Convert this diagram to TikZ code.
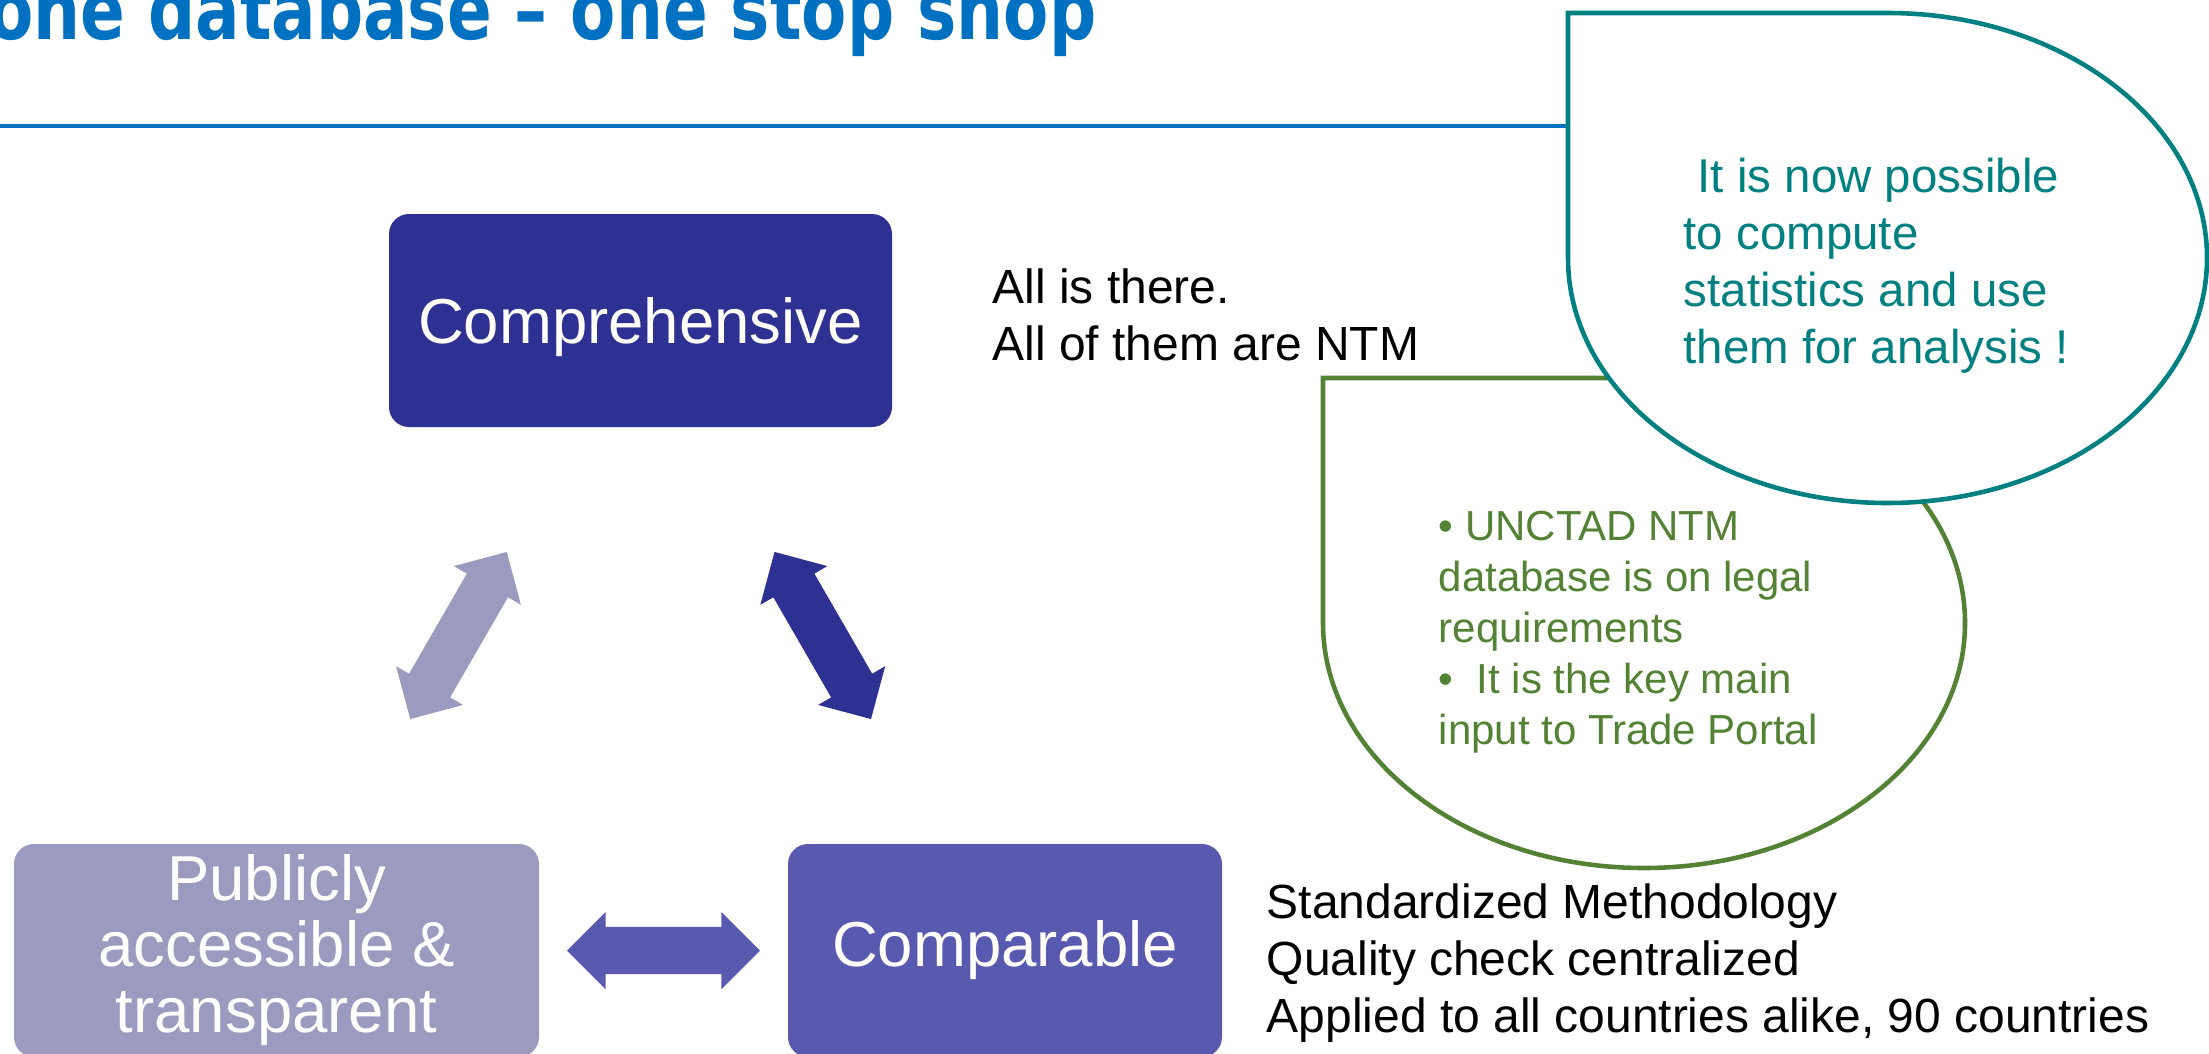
\documentclass[tikz,border=0pt]{standalone}
\usepackage{fontspec}
\setmainfont{Liberation Sans}
\newfontfamily\titlefont{DejaVu Sans}
\usetikzlibrary{shapes.arrows,calc}
\definecolor{titleblue}{RGB}{0, 112, 192}
\definecolor{darkindigo}{RGB}{46, 49, 146}
\definecolor{midindigo}{RGB}{89, 89, 176}
\definecolor{lightindigo}{RGB}{155, 155, 192}
\definecolor{calloutteal}{RGB}{0, 128, 128}
\definecolor{leafgreen}{RGB}{84, 130, 53}

\begin{document}
\begin{tikzpicture}
  [
    box/.style={rounded corners=0.2cm, minimum height=2.13cm, inner sep=0pt, align=center,
      text=white, font=\fontsize{18.07}{18.76}\selectfont},
    link/.style={double arrow, double arrow head extend=0.15cm, inner xsep=0pt, inner ysep=0.23cm,
      minimum width=0.76cm, minimum height=1.93cm},
    note/.style={anchor=base west, align=left, inner sep=0pt,
      font=\fontsize{13.65}{16.08}\selectfont},
    bubble/.style={line width=1.3pt, fill=white, line join=miter}
  ]
  \useasboundingbox (0, 0) rectangle (22.09, -10.54);
  \clip (0, 0) rectangle (22.09, -10.54);

  % heading
  \node[anchor=base east, inner sep=0pt, text=titleblue,
    font=\titlefont\bfseries\fontsize{18.78}{20}\selectfont] (title) at (10.97, -0.40)
    {\scalebox{1}[1.25]{one database – one stop shop}};
  \draw[titleblue, line width=0.04cm] (0, -1.26) -- (15.68, -1.26);

  % the three properties
  \node[box, fill=darkindigo, minimum width=5.03cm, text depth=0pt] (comp) at (6.405, -3.205) {Comprehensive};
  \node[box, fill=lightindigo, minimum width=5.25cm] (pub) at (2.765, -9.505)
    {Publicly\\accessible \&\\transparent};
  \node[box, fill=midindigo, minimum width=4.34cm] (cmp) at (10.05, -9.505) {Comparable};

  \node[link, fill=lightindigo, rotate=60] (publink) at ($(comp)!0.5!(pub)$) {};
  \node[link, fill=darkindigo, rotate=-60] (cmplink) at ($(comp)!0.5!(cmp)$) {};
  \node[link, fill=midindigo] (baselink) at ($(pub.east)!0.5!(cmp.west)$) {};

  \node[note] (there) at (9.92, -3.60) {All is there.\\All of them are NTM};
  \node[note] (method) at (12.66, -10.32)
    {Standardized Methodology\\Quality check centralized\\Applied to all countries alike, 90 countries};

  % callouts
  \draw[bubble, draw=leafgreen] (13.23, -3.78) -- (16.44, -3.78)
    arc[start angle=90, end angle=-180, x radius=3.21, y radius=2.45] -- cycle;
  \node[note, text=leafgreen, font=\fontsize{11.95}{14.5}\selectfont] (legal) at (14.38, -7.44)
    {• UNCTAD NTM\\database is on legal\\requirements\\•\ \ It is the key main\\input to Trade Portal};

  \draw[bubble, draw=calloutteal] (15.68, -0.13) -- (18.875, -0.13)
    arc[start angle=90, end angle=-180, x radius=3.195, y radius=2.45] -- cycle;
  \node[note, text=calloutteal, font=\fontsize{13.5}{16.2}\selectfont] (stats) at (16.83, -3.63)
    {\hspace*{0.14cm}It is now possible\\to compute\\statistics and use\\them for analysis !};

\end{tikzpicture}
\end{document}
